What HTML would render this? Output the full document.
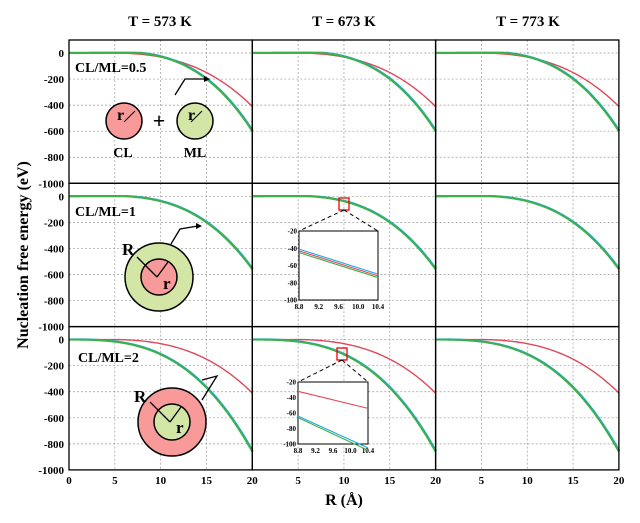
<!DOCTYPE html><html><head><meta charset="utf-8"><style>body{margin:0;background:#fff}svg{display:block}text{font-family:"Liberation Serif",serif;font-weight:bold}</style></head><body>
<svg id="s" width="640" height="523" xmlns="http://www.w3.org/2000/svg">
<text x="160" y="26" font-size="15" text-anchor="middle">T = 573 K</text>
<text x="344" y="26" font-size="15" text-anchor="middle">T = 673 K</text>
<text x="528" y="26" font-size="15" text-anchor="middle">T = 773 K</text>
<text x="344" y="505" font-size="16" text-anchor="middle">R (Å)</text>
<text transform="translate(28,255) rotate(-90)" font-size="16" text-anchor="middle">Nucleation free energy (eV)</text>
<g id="g"></g>
</svg>
<script>
const NS="http://www.w3.org/2000/svg",g=document.getElementById('g');
function el(t,a,txt){const e=document.createElementNS(NS,t);for(const k in a)e.setAttribute(k,a[k]);if(txt!=null)e.textContent=txt;g.appendChild(e);return e;}
const X0=[69,252.3,435.6],W=183.3,Y0=[40,183.3,326.6],H=143.3;
const rows=[[{a:.0717,b:.408,c:'#e0485a'},{a:.1222,b:.944,c:'#1ca7e0',o:.6},{a:.1222,b:.944,c:'#3cb04a'}],
[{a:.1022,b:.644,c:'#e0485a'},{a:.1022,b:.644,c:'#1ca7e0',o:.6},{a:.1022,b:.644,c:'#3cb04a'}],
[{a:.0717,b:.408,c:'#e0485a'},{a:.1011,b:-.128,c:'#1ca7e0',o:.6},{a:.1011,b:-.128,c:'#3cb04a'}]];
for(let r=0;r<3;r++)for(let c=0;c<3;c++){
 const x0=X0[c],y0=Y0[r],sx=W/20,sy=H/1100,Y=v=>y0+(100-v)*sy,X=v=>x0+v*sx;
 for(let i=5;i<20;i+=5)el('line',{x1:X(i),x2:X(i),y1:y0,y2:y0+H,stroke:'#999','stroke-width':.7,'stroke-dasharray':'2,2'});
 for(let v=0;v>-1000;v-=200)el('line',{x1:x0,x2:x0+W,y1:Y(v),y2:Y(v),stroke:'#999','stroke-width':.7,'stroke-dasharray':'2,2'});
 for(const s of rows[r]){let d='';for(let i=0;i<=100;i++){const R=i/5;let f=-s.a*R*R*R+s.b*R*R;if(f>0)f=f*0.1;d+=(i?'L':'M')+X(R).toFixed(2)+','+Y(f).toFixed(2);}
  el('path',{d:d,fill:'none',stroke:s.c,'stroke-width':s.c=='#3cb04a'?2:1.4,transform:s.o?'translate(0.8,-0.6)':''});}
 el('rect',{x:x0,y:y0,width:W,height:H,fill:'none',stroke:'#000','stroke-width':1.3});
 if(c==0)for(let v=0;v>=-1000;v-=200){el('text',{x:x0-5,y:Y(v)+4,'font-size':11,'text-anchor':'end'},v);}
 if(r==2)for(let i=(c==0?0:5);i<=20;i+=5)el('text',{x:X(i),y:y0+H+14,'font-size':11,'text-anchor':'middle'},i);
}
el('text',{x:75,y:72,'font-size':14},'CL/ML=0.5');el('text',{x:75,y:216,'font-size':14},'CL/ML=1');el('text',{x:78,y:362,'font-size':14},'CL/ML=2');
el('circle',{cx:124,cy:121,r:18,fill:'#f99a9a',stroke:'#000','stroke-width':1.5});
el('circle',{cx:195,cy:121,r:18,fill:'#d4e6a5',stroke:'#000','stroke-width':1.5});
el('text',{x:159,y:128,'font-size':22,'text-anchor':'middle'},'+');
el('text',{x:117,y:120,'font-size':16},'r');el('text',{x:188,y:120,'font-size':16},'r');
el('path',{d:'M124,122L135,111M191,122L202,111',stroke:'#000',fill:'none'});
el('text',{x:123,y:157,'font-size':14,'text-anchor':'middle'},'CL');el('text',{x:195,y:157,'font-size':14,'text-anchor':'middle'},'ML');
el('path',{d:'M175,95L185,79L207,79',stroke:'#000',fill:'none','stroke-width':1.3});el('path',{d:'M210,79l-6,-3v6z'});
el('circle',{cx:159,cy:277,r:34,fill:'#d4e6a5',stroke:'#000','stroke-width':1.5});
el('circle',{cx:159,cy:277,r:18,fill:'#f99a9a',stroke:'#000','stroke-width':1.5});
el('path',{d:'M157,277L137,257M157,277L168,262',stroke:'#000',fill:'none','stroke-width':1.3});
el('text',{x:122,y:255,'font-size':17},'R');el('text',{x:163,y:289,'font-size':17},'r');
el('path',{d:'M171,244L180,229L198,226',stroke:'#000',fill:'none','stroke-width':1.3});el('path',{d:'M202,226l-6,-3v6z'});
el('circle',{cx:172,cy:422,r:34,fill:'#f99a9a',stroke:'#000','stroke-width':1.5});
el('circle',{cx:172,cy:422,r:18,fill:'#d4e6a5',stroke:'#000','stroke-width':1.5});
el('path',{d:'M170,422L150,402M170,422L181,407',stroke:'#000',fill:'none','stroke-width':1.3});
el('text',{x:134,y:402,'font-size':17},'R');el('text',{x:176,y:433,'font-size':17},'r');
el('path',{d:'M202,400L217,376L202,380',stroke:'#000',fill:'none','stroke-width':1.3});
function inset(bx,by,bw,bh,rx,ry,lines){
 el('rect',{x:rx,y:ry,width:10,height:12,fill:'none',stroke:'#e00','stroke-width':1.3});
 el('path',{d:`M${rx+5},${ry+12}L${bx},${by}M${rx+5},${ry+12}L${bx+bw},${by}`,stroke:'#000','stroke-dasharray':'4,3',fill:'none'});
 el('rect',{x:bx,y:by,width:bw,height:bh,fill:'#fff',stroke:'#000'});
 const Y=v=>by+(-20-v)/80*bh;
 [-20,-40,-60,-80,-100].forEach(v=>el('text',{x:bx-2,y:Y(v)+2.5,'font-size':7,'text-anchor':'end'},v));
 ['8.8','9.2','9.6','10.0','10.4'].forEach((t,i)=>el('text',{x:bx+i*bw/4,y:by+bh+9,'font-size':7,'text-anchor':'middle'},t));
 for(const L of lines){el('line',{x1:bx,x2:bx+bw,y1:Y(L[0]),y2:Y(L[1]),stroke:L[2],'stroke-width':1.1});}
}
inset(299,231,79,69,339,198,[[-41,-70,'#1ca7e0'],[-43,-72,'#e0485a'],[-45,-74,'#3cb04a']]);
inset(298,382,70,62,337,348,[[-32,-54,'#e0485a'],[-64,-105,'#1ca7e0'],[-66,-108,'#3cb04a']]);
</script>
</body></html>
